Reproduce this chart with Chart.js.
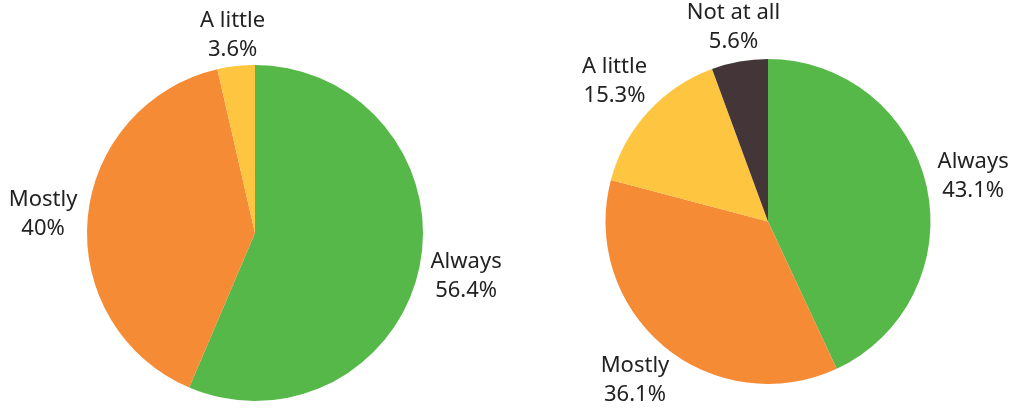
<!DOCTYPE html>
<html>
<head>
<meta charset="utf-8">
<script src="https://cdn.jsdelivr.net/npm/chart.js@4.4.1/dist/chart.umd.min.js"></script>
<style>
  html, body { margin: 0; padding: 0; background: #fff; }
  .wrap { position: relative; width: 1010px; height: 409px; }
  .box { position: absolute; top: 0; height: 409px; }
</style>
</head>
<body>
<div class="wrap">
  <div class="box" style="left:0;width:510px"><canvas id="pieLeft"></canvas></div>
  <div class="box" style="left:505px;width:505px"><canvas id="pieRight"></canvas></div>
</div>
<script>
// left pie
const leftLabels = ['Always', 'Mostly', 'A little'];
const leftValues = [56.4, 40, 3.6];
const leftColors = ['#57b84a', '#f58b35', '#fec640'];

// right pie
const rightLabels = ['Always', 'Mostly', 'A little', 'Not at all'];
const rightValues = [43.1, 36.1, 15.3, 5.6];
const rightColors = ['#57b84a', '#f58b35', '#fec640', '#433538'];

const FONT = '22px "Noto Sans", "Open Sans", sans-serif';
const LINE_H = 29;

// writes "label / value%" outside each slice, along its middle angle
const outsideLabels = {
    id: 'outsideLabels',
    afterDatasetsDraw(chart) {
        const ctx = chart.ctx;
        const meta = chart.getDatasetMeta(0);
        const ds = chart.data.datasets[0];
        ctx.save();
        ctx.font = FONT;
        ctx.fillStyle = '#222';
        ctx.textAlign = 'center';
        ctx.textBaseline = 'middle';
        meta.data.forEach((arc, i) => {
            const lines = [chart.data.labels[i], ds.data[i] + '%'];
            const w = Math.max(...lines.map((t) => ctx.measureText(t).width));
            const h = 36;
            const mid = (arc.startAngle + arc.endAngle) / 2;
            const c = Math.cos(mid);
            const s = Math.sin(mid);
            const d = arc.outerRadius + 9 + Math.abs(c) * w / 2 + Math.abs(s) * h / 2;
            const cx = arc.x + c * d;
            const cy = arc.y + s * d;
            lines.forEach((t, k) => {
                ctx.fillText(t, cx, cy + (k - (lines.length - 1) / 2) * LINE_H);
            });
        });
        ctx.restore();
    },
};

function makePie(id, labels, values, colors, padding) {
    const ctx = document.getElementById(id).getContext('2d');
    return new Chart(ctx, {
        type: 'pie',
        data: {
            labels: labels,
            datasets: [{
                data: values,
                backgroundColor: colors,
                borderWidth: 0,
            }],
        },
        options: {
            responsive: true,
            maintainAspectRatio: false,
            animation: false,
            layout: { padding: padding },
            plugins: {
                legend: { display: false },
                tooltip: { enabled: false },
            },
        },
        plugins: [outsideLabels],
    });
}

makePie('pieLeft', leftLabels, leftValues, leftColors, { top: 65, bottom: 8, left: 80, right: 80 });
makePie('pieRight', rightLabels, rightValues, rightColors, { top: 59, bottom: 25, left: 80, right: 59 });
</script>
</body>
</html>
